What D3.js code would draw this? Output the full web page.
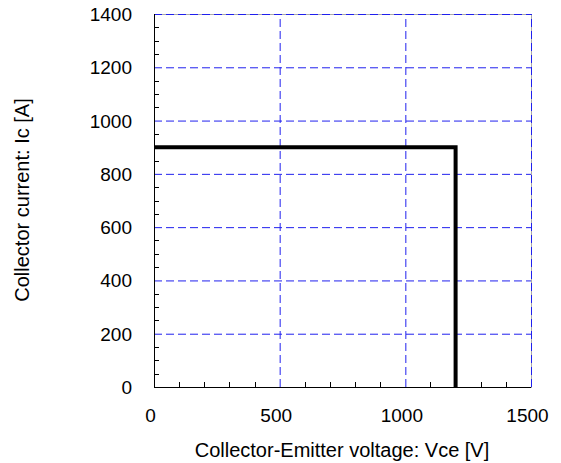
<!DOCTYPE html>
<html><head><meta charset="utf-8">
<script src="https://cdn.jsdelivr.net/npm/d3@7"></script>
<style>body{margin:0;background:#fff}svg{display:block}text{font-family:"Liberation Sans",Arial,sans-serif;fill:#000}</style>
</head><body>
<script>
const xTicks = [0, 500, 1000, 1500];
const yTicks = [0, 200, 400, 600, 800, 1000, 1200, 1400];
const xMinor = [100, 200, 300, 400, 600, 700, 800, 900, 1100, 1200, 1300, 1400];
const yMinor = [50,100,150,250,300,350,450,500,550,650,700,750,850,900,950,1050,1100,1150,1250,1300,1350];
const soaV = [0, 1200, 1200];
const soaI = [900, 900, 0];

const W = 561, H = 463;
const svg = d3.select("body").append("svg").attr("width", W).attr("height", H);
const x = d3.scaleLinear().domain([0, 1500]).range([154, 531]);
const y = d3.scaleLinear().domain([0, 1400]).range([387, 14]);

svg.append("rect").attr("x", x(0) + 0.5).attr("y", y(1400) + 0.5)
  .attr("width", x(1500) - x(0)).attr("height", y(0) - y(1400)).attr("fill", "none").attr("stroke", "#aaa");

svg.append("g").selectAll("line").data(yTicks.filter(d => d > 0)).join("line")
  .attr("x1", x(0)).attr("x2", x(1500)).attr("y1", d => y(d) + 0.5).attr("y2", d => y(d) + 0.5)
  .attr("stroke", "#2020ee").attr("stroke-width", 1).attr("stroke-dasharray", "8,4");
svg.append("g").selectAll("line").data(xTicks.filter(d => d > 0)).join("line")
  .attr("y1", y(0)).attr("y2", y(1400)).attr("x1", d => x(d) + 0.5).attr("x2", d => x(d) + 0.5)
  .attr("stroke", "#2020ee").attr("stroke-width", 1).attr("stroke-dasharray", "8,4");

svg.append("g").selectAll("line").data(yMinor).join("line")
  .attr("x1", x(0)).attr("x2", x(0) + 5).attr("y1", d => Math.round(y(d)) + 0.5).attr("y2", d => Math.round(y(d)) + 0.5)
  .attr("stroke", "#000");
svg.append("g").selectAll("line").data(xMinor).join("line")
  .attr("y1", y(0)).attr("y2", y(0) - 5).attr("x1", d => Math.round(x(d)) + 0.5).attr("x2", d => Math.round(x(d)) + 0.5)
  .attr("stroke", "#000");

svg.append("line").attr("x1", x(0) + 0.5).attr("x2", x(0) + 0.5).attr("y1", y(0)).attr("y2", y(1400)).attr("stroke", "#000");
svg.append("line").attr("x1", x(0)).attr("x2", x(1500)).attr("y1", y(0) + 0.5).attr("y2", y(0) + 0.5).attr("stroke", "#000");

const line = d3.line().x((d, i) => x(soaV[i])).y((d, i) => y(soaI[i]));
svg.append("path").datum(soaV).attr("d", line).attr("fill", "none")
  .attr("stroke", "#000").attr("stroke-width", 4).attr("stroke-linejoin", "miter");

svg.append("g").selectAll("text").data(xTicks).join("text")
  .attr("x", d => x(d) - 3.5).attr("y", 422).attr("text-anchor", "middle").attr("font-size", 19).text(d => d);
svg.append("g").selectAll("text").data(yTicks).join("text")
  .attr("x", 132).attr("y", d => y(d) + 7).attr("text-anchor", "end").attr("font-size", 19).text(d => d);

svg.append("text").attr("x", 342).attr("y", 457).attr("text-anchor", "middle").attr("font-size", 20)
  .text("Collector-Emitter voltage: Vce [V]");
svg.append("text").attr("transform", "translate(29,200) rotate(-90)").attr("text-anchor", "middle").attr("font-size", 20)
  .text("Collector current: Ic [A]");
</script>
</body></html>
